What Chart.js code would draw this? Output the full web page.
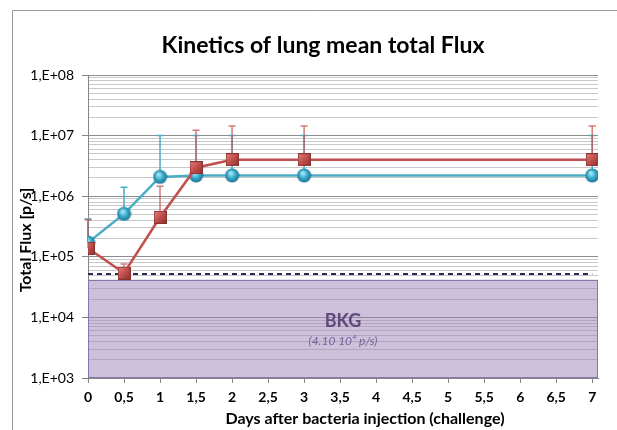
<!DOCTYPE html>
<html>
<head>
<meta charset="utf-8">
<script src="https://cdn.jsdelivr.net/npm/chart.js@4.4.0/dist/chart.umd.min.js"></script>
<style>
  html, body { margin: 0; padding: 0; background: #fff; }
  #wrap { width: 617px; height: 430px; position: relative; }
</style>
</head>
<body>
<div id="wrap"><canvas id="chart"></canvas></div>
<script>
// values
const days = [0, 0.5, 1, 1.5, 2, 3, 7];
const blueMean  = [1.72e5, 5.1e5, 2.08e6, 2.2e6, 2.2e6, 2.2e6, 2.2e6];
const blueUpper = [4.2e5, 1.4e6, 1.0e7, 1.0e7, 1.0e7, 1.0e7, 1.0e7];
const redMean   = [1.38e5, 5.4e4, 4.5e5, 2.95e6, 4.0e6, 4.0e6, 4.0e6];
const redUpper  = [4.1e5, 7.6e4, 1.46e6, 1.23e7, 1.44e7, 1.44e7, 1.44e7];
const bkgTop = 4.2e4;
const dashedLevel = 5.2e4;
const yTickValues = [1e3, 1e4, 1e5, 1e6, 1e7, 1e8];
const yTickLabels = ['1,E+03', '1,E+04', '1,E+05', '1,E+06', '1,E+07', '1,E+08'];
const xTickValues = [0, 0.5, 1, 1.5, 2, 2.5, 3, 3.5, 4, 4.5, 5, 5.5, 6, 6.5, 7];
const xTickLabels = ['0', '0,5', '1', '1,5', '2', '2,5', '3', '3,5', '4', '4,5', '5', '5,5', '6', '6,5', '7'];

const FONT = 'Lato, "Open Sans", sans-serif';

// shaded markers, a bit like the excel ones
function makeBall() {
    const c = document.createElement('canvas');
    c.width = 15; c.height = 15;
    const g = c.getContext('2d');
    const grad = g.createRadialGradient(6, 5, 1, 7.5, 7.5, 7.5);
    grad.addColorStop(0, '#9fe3f5');
    grad.addColorStop(0.5, '#35a7c9');
    grad.addColorStop(1, '#1a6f8a');
    g.fillStyle = grad;
    g.beginPath(); g.arc(7.5, 7.5, 7, 0, Math.PI * 2); g.fill();
    return c;
}
function makeBox() {
    const c = document.createElement('canvas');
    c.width = 13; c.height = 13;
    const g = c.getContext('2d');
    const grad = g.createLinearGradient(0, 0, 13, 13);
    grad.addColorStop(0, '#e8837f');
    grad.addColorStop(0.5, '#c0504d');
    grad.addColorStop(1, '#8e2f2c');
    g.fillStyle = grad;
    g.fillRect(0, 0, 13, 13);
    g.strokeStyle = '#8a3431';
    g.lineWidth = 1;
    g.strokeRect(0.5, 0.5, 12, 12);
    return c;
}

const toPoints = (ys) => days.map((d, i) => ({ x: d, y: ys[i] }));

const frame = {
    id: 'frame',
    beforeDraw(chart) {
        const c = chart.ctx;
        c.save();
        c.strokeStyle = '#9a9a9a';
        c.lineWidth = 1;
        c.beginPath();
        c.moveTo(12.5, 430); c.lineTo(12.5, 10.5); c.lineTo(617, 10.5);
        c.stroke();
        c.restore();
    }
};

const background = {
    id: 'background',
    beforeDatasetsDraw(chart) {
        const c = chart.ctx;
        const x = chart.scales.x, y = chart.scales.y;
        const area = chart.chartArea;
        const top = y.getPixelForValue(bkgTop);
        c.save();
        c.fillStyle = 'rgba(153,129,181,0.5)';
        c.fillRect(area.left, top, area.right - area.left, area.bottom - top);
        c.strokeStyle = '#8a74a8';
        c.lineWidth = 1;
        c.strokeRect(area.left + 0.5, Math.round(top) + 0.5, area.right - area.left - 1, area.bottom - Math.round(top) - 1);

        // error bars (upper only), under the markers
        const bars = [
            { mean: blueMean, up: blueUpper, color: '#4bacc6' },
            { mean: redMean, up: redUpper, color: 'rgba(192,80,77,0.75)' }
        ];
        bars.forEach(b => {
            c.strokeStyle = b.color;
            c.lineWidth = 1.5;
            days.forEach((d, i) => {
                const px = x.getPixelForValue(d);
                const y0 = y.getPixelForValue(b.mean[i]);
                const y1 = y.getPixelForValue(b.up[i]);
                c.beginPath();
                c.moveTo(px, y0); c.lineTo(px, y1);
                c.moveTo(px - 3.5, y1); c.lineTo(px + 3.5, y1);
                c.stroke();
            });
        });
        c.restore();
    },
    afterDraw(chart) {
        const c = chart.ctx;
        const area = chart.chartArea;
        const top = chart.scales.y.getPixelForValue(bkgTop);
        const cx = (area.left + area.right) / 2;
        const cy = (top + area.bottom) / 2;
        c.save();
        c.textAlign = 'center';
        c.textBaseline = 'middle';
        c.fillStyle = '#604a7b';
        c.font = 'bold 18px ' + FONT;
        c.fillText('BKG', cx, cy - 8);
        c.fillStyle = '#76639a';
        c.font = 'italic 12px ' + FONT;
        c.fillText('(4.10 10\u2074 p/s)', cx, cy + 12);

        c.fillStyle = '#000';
        c.font = 'bold 23px ' + FONT;
        c.fillText('Kinetics of lung mean total Flux', 323, 46);
        c.font = 'bold 16px ' + FONT;
        c.fillText('Days after bacteria injection (challenge)', 365, 419);
        c.translate(26, 240);
        c.rotate(-Math.PI / 2);
        c.fillText('Total Flux [p/s]', 0, 0);
        c.restore();
    }
};

const ctx = document.getElementById('chart').getContext('2d');
const chart = new Chart(ctx, {
    type: 'line',
    data: {
        datasets: [
            {
                label: 'red', data: toPoints(redMean), order: 0,
                borderColor: '#c0504d', borderWidth: 2.5,
                pointStyle: makeBox(), pointRadius: 6, pointHoverRadius: 6
            },
            {
                label: 'blue', data: toPoints(blueMean), order: 1,
                borderColor: '#4bacc6', borderWidth: 2.5,
                pointStyle: makeBall(), pointRadius: 7, pointHoverRadius: 7
            },
            {
                label: 'threshold', order: 2,
                data: [{ x: days[0], y: dashedLevel }, { x: days[days.length - 1], y: dashedLevel }],
                borderColor: '#2b2856', borderWidth: 2, borderDash: [5, 4], pointRadius: 0
            }
        ]
    },
    options: {
        responsive: true,
        maintainAspectRatio: false,
        animation: false,
        events: [],
        layout: { padding: { left: 0, right: 19, top: 75, bottom: 0 } },
        plugins: { legend: { display: false }, title: { display: false }, tooltip: { enabled: false } },
        scales: {
            x: {
                type: 'linear', min: 0, max: 7.08,
                afterBuildTicks: s => { s.ticks = xTickValues.map(v => ({ value: v })); },
                afterFit: s => { s.height = 52; },
                ticks: {
                    color: '#000', padding: 6, maxRotation: 0, autoSkip: false,
                    font: { family: FONT, size: 14, weight: 'bold' },
                    callback: v => xTickLabels[xTickValues.indexOf(v)]
                },
                grid: { drawOnChartArea: false, drawTicks: true, tickLength: 5, color: '#868686' },
                border: { display: true, color: '#868686' }
            },
            y: {
                type: 'logarithmic', min: 1e3, max: 1e8,
                afterBuildTicks: s => {
                    const t = [];
                    yTickValues.forEach((v, i) => {
                        t.push({ value: v, major: true });
                        if (i < yTickValues.length - 1) {
                            for (let m = 2; m <= 9; m++) t.push({ value: v * m });
                        }
                    });
                    s.ticks = t;
                },
                afterFit: s => { s.width = 88; },
                ticks: {
                    color: '#000', padding: 8, autoSkip: false,
                    font: { family: FONT, size: 14 },
                    callback: v => {
                        const i = yTickValues.indexOf(v);
                        return i >= 0 ? yTickLabels[i] : '';
                    }
                },
                grid: {
                    color: c => (yTickValues.includes(c.tick.value) ? '#8c8c8c' : '#c8c8c8'),
                    tickColor: c => (yTickValues.includes(c.tick.value) ? '#868686' : 'rgba(0,0,0,0)'),
                    tickLength: 6
                },
                border: { display: true, color: '#868686' }
            }
        }
    },
    plugins: [frame, background]
});
</script>
</body>
</html>
